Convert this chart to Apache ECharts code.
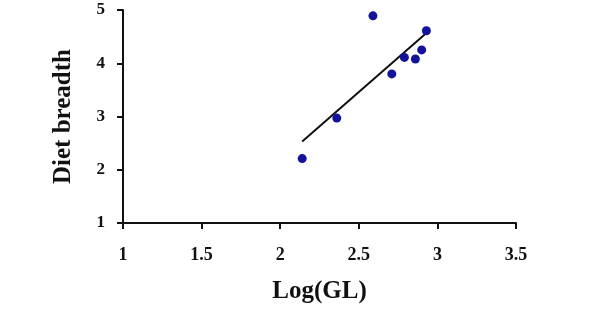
<!DOCTYPE html>
<html><head><meta charset="utf-8">
<script src="https://cdn.jsdelivr.net/npm/echarts@6/dist/echarts.min.js"></script>
<style>html,body{margin:0;padding:0;background:#fff}#c{width:596px;height:322px}</style>
</head><body><div id="c"></div>
<script>
var logGL = [2.14, 2.36, 2.59, 2.71, 2.79, 2.86, 2.90, 2.93];
var dietBreadth = [2.21, 2.97, 4.89, 3.80, 4.11, 4.08, 4.25, 4.61];
var trendX = [2.14, 2.93];
var trendY = [2.53, 4.57];
var xTicks = [1, 1.5, 2, 2.5, 3, 3.5];
var yTicks = [1, 2, 3, 4, 5];

var font = '"Liberation Serif","Times New Roman",serif';
var chart = echarts.init(document.getElementById('c'));
chart.setOption({
  backgroundColor: '#fff',
  animation: false,
  grid: {left: 123, top: 10, right: 80, bottom: 99},
  xAxis: {
    type: 'value', min: xTicks[0], max: xTicks[xTicks.length-1], interval: 0.5,
    name: 'Log(GL)', nameLocation: 'middle', nameGap: 56,
    nameTextStyle: {fontFamily: font, fontWeight: 'bold', fontSize: 25, color: '#111'},
    axisLine: {lineStyle: {color: '#111', width: 2}},
    axisTick: {show: true, length: 6, lineStyle: {color: '#111', width: 2}},
    axisLabel: {fontFamily: font, fontWeight: 'bold', fontSize: 18, color: '#111', margin: 23},
    splitLine: {show: false}
  },
  yAxis: {
    type: 'value', min: yTicks[0], max: yTicks[yTicks.length-1], interval: 1,
    name: 'Diet breadth', nameLocation: 'middle', nameGap: 47,
    nameTextStyle: {fontFamily: font, fontWeight: 'bold', fontSize: 25, color: '#111'},
    axisLine: {show: true, lineStyle: {color: '#111', width: 2}},
    axisTick: {show: true, length: 6, lineStyle: {color: '#111', width: 2}},
    axisLabel: {fontFamily: font, fontWeight: 'bold', fontSize: 17, color: '#111', margin: 18},
    splitLine: {show: false}
  },
  series: [
    {
      type: 'line', data: trendX.map(function(x,i){return [x, trendY[i]];}),
      symbol: 'none', lineStyle: {color: '#111', width: 2}, z: 2
    },
    {
      type: 'scatter', data: logGL.map(function(x,i){return [x, dietBreadth[i]];}),
      symbolSize: 9, itemStyle: {color: '#12129a', opacity: 1}, z: 3
    }
  ]
});
</script></body></html>
